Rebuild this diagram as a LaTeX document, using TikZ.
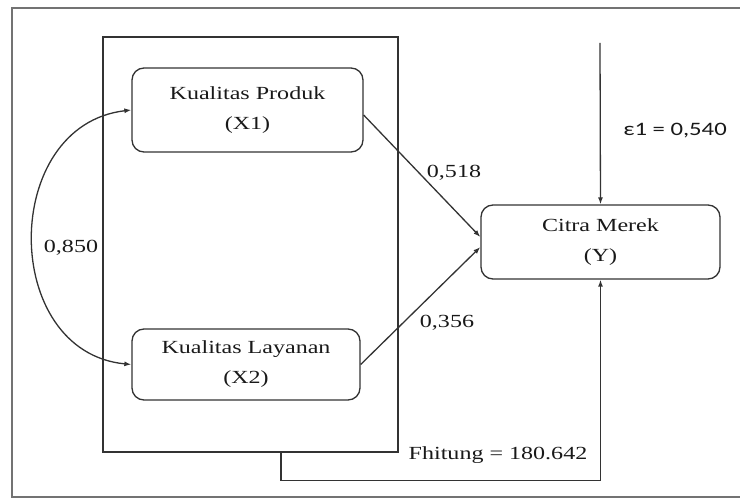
\documentclass[tikz,border=0pt]{standalone}
\usepackage{fontspec}
\setmainfont{Liberation Serif}
\newfontfamily\calfont{Carlito}
\usepackage{graphicx}
\usetikzlibrary{arrows.meta}
\newcommand{\widetxt}[1]{\scalebox{1.3}[1]{#1}}

\begin{document}
\begin{tikzpicture}[x=1pt, y=-1pt,
  every node/.style={font=\fontsize{18.5}{30}\selectfont, text=black!90},
  box/.style={draw=black!80, line width=1.3pt, rounded corners=12pt, align=center, inner sep=0pt},
  arr/.style={-{Latex[length=7pt,width=5pt]}, draw=black!80, line width=1.3pt},
  biarr/.style={{Latex[length=7pt,width=5pt]}-{Latex[length=7pt,width=5pt]}, draw=black!80, line width=1.3pt}]
  \useasboundingbox (0,0) rectangle (740,500);
  % outer frame
  \draw[black!55, line width=1.5pt] (740,8) -| (12,497) -- (740,497);
  \node (grp) [draw=black!80, line width=1.3pt, minimum width=295pt, minimum height=415pt, inner sep=0pt] at (250.5,244.5) {};
  \node (x1) [box, minimum width=231pt, minimum height=84pt] at (247.5,110) {\widetxt{Kualitas Produk}\\\widetxt{(X1)}};
  \node (x2) [box, minimum width=228pt, minimum height=71pt] at (246,364.5) {\widetxt{Kualitas Layanan}\\\widetxt{(X2)}};
  \node (y) [box, minimum width=239pt, minimum height=74pt] at (600.5,242) {\widetxt{Citra Merek}\\\widetxt{(Y)}};
  \coordinate (e1) at (600,43);
  % paths
  \draw[arr] ([yshift=-5pt]x1.east) -- ([yshift=5pt]y.west);
  \draw[arr] (x2.east) -- ([yshift=-5pt]y.west);
  \draw[arr] (e1) -- (y.north);
  \draw[arr] ([xshift=30.5pt]grp.south) -- ++(0,28) -| (y.south);
  \draw[biarr] (x1.west) .. controls (0,125) and (0,352) .. (x2.west);
  % labels
  \node (p1) at (454,173) {\widetxt{0,518}};
  \node (p2) at (447,323) {\widetxt{0,356}};
  \node (r) at (71,248) {\widetxt{0,850}};
  \node (eps) at (675,131) {\calfont\fontsize{19}{23}\selectfont\widetxt{ε1 = 0,540}};
  \node (fh) at (498,455) {\widetxt{Fhitung = 180.642}};
\end{tikzpicture}
\end{document}
